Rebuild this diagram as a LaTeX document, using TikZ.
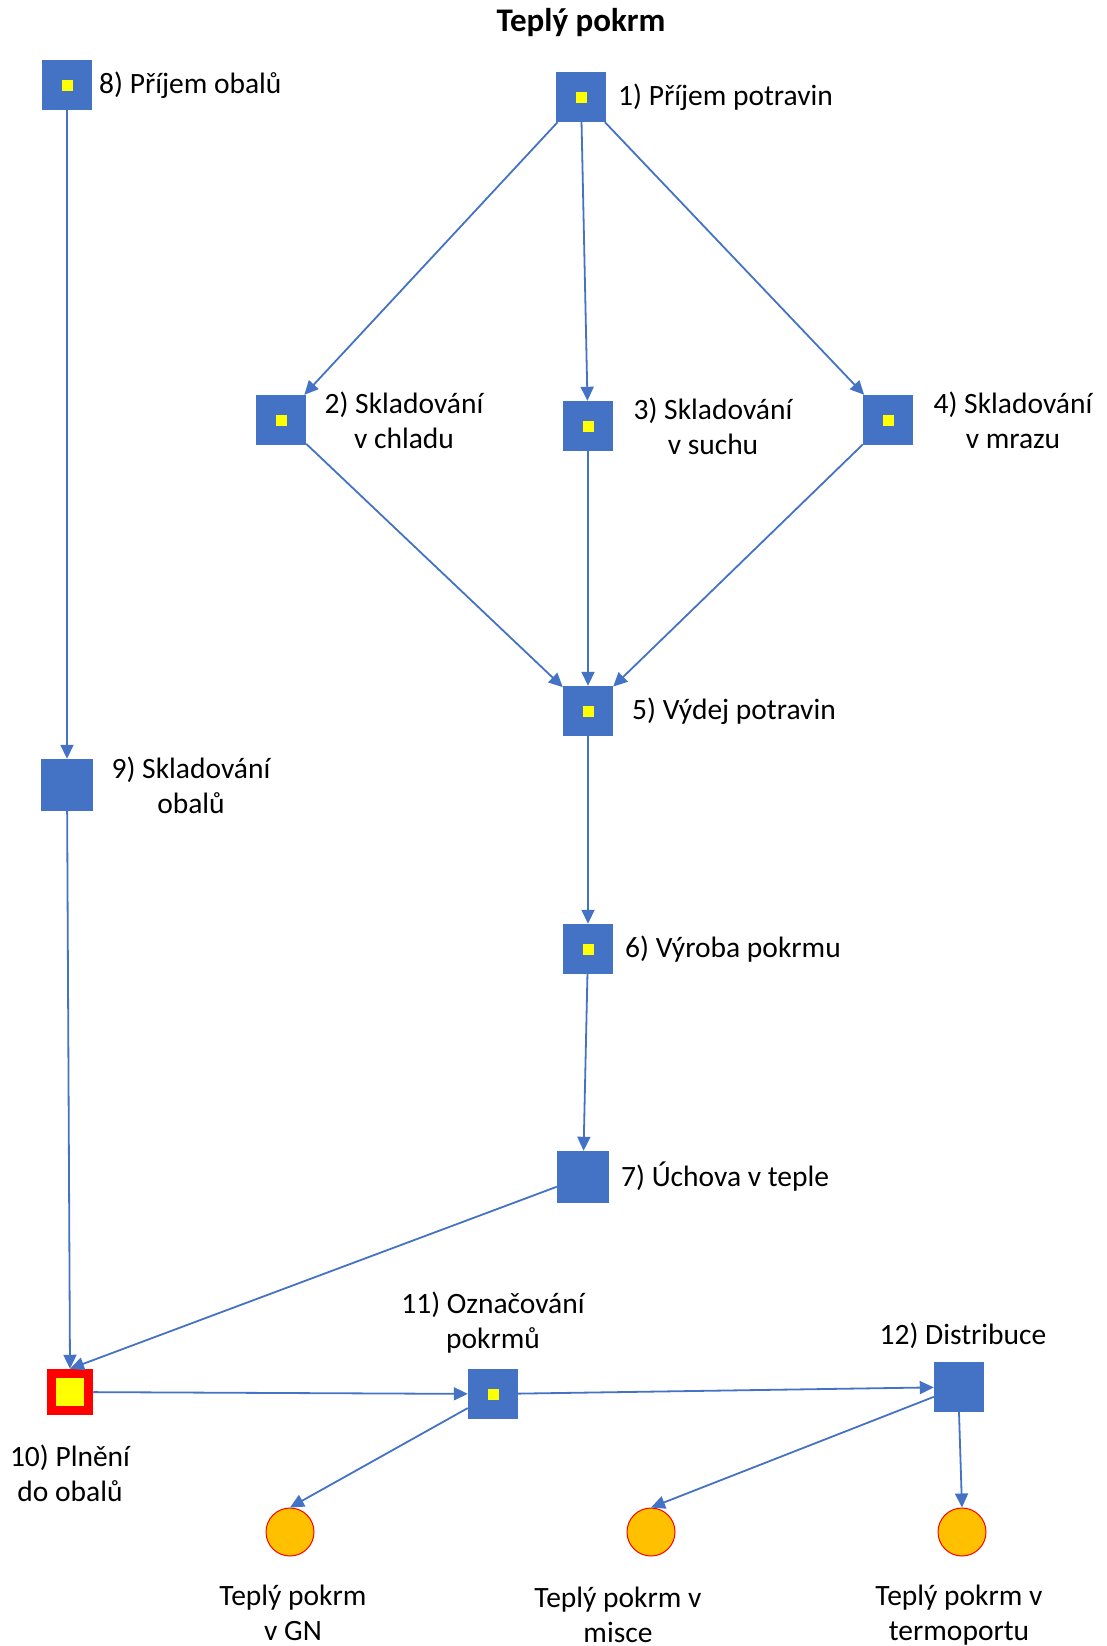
\documentclass[tikz,border=0pt]{standalone}
\usepackage{fontspec}
\setmainfont{Carlito}
\usetikzlibrary{arrows.meta}
\definecolor{modra}{HTML}{4472C4}
\definecolor{zluta}{HTML}{FFFF00}
\definecolor{cervena}{HTML}{FF0000}
\definecolor{oranz}{HTML}{FFC000}

\begin{document}
\begin{tikzpicture}[x=1pt, y=-1pt,
      krok/.style={fill=modra, inner sep=0pt, minimum size=50pt},
      bod/.style={krok, path picture={\fill[zluta]
          ([shift={(-5.5pt,-5.5pt)}]path picture bounding box.center) rectangle
          ([shift={(5.5pt,5.5pt)}]path picture bounding box.center);}},
      plneni/.style={draw=cervena, line width=9.5pt, fill=zluta, inner sep=0pt,
        minimum size=37pt},
      vystup/.style={circle, draw=cervena, line width=1pt, fill=oranz,
        inner sep=0pt, minimum size=48pt},
      popis/.style={font=\fontsize{29.5}{35}\selectfont, align=center, inner sep=0pt},
      sipka/.style={-{Triangle[width=13pt,length=14pt]}, modra, line width=1.8pt}]
    \useasboundingbox (0,0) rectangle (1106,1646);
    \node[font=\bfseries\fontsize{33}{39}\selectfont] (titul) at (581,23) {Teplý pokrm};
    % suroviny
    \node[bod] (n1) at (581,97) {};
    \node[popis, anchor=west] (p1) at (618,97) {1) Příjem potravin};
    \node[bod] (n2) at (281,420) {};
    \node[popis] (p2) at (404,420) {2) Skladování\\v chladu};
    \node[bod] (n3) at (588,426) {};
    \node[popis] (p3) at (713,426) {3) Skladování\\v suchu};
    \node[bod] (n4) at (888,420) {};
    \node[popis] (p4) at (1013,420) {4) Skladování\\v mrazu};
    \node[bod] (n5) at (588,711) {};
    \node[popis, anchor=west] (p5) at (632,711) {5) Výdej potravin};
    \node[bod] (n6) at (588,949) {};
    \node[popis, anchor=west] (p6) at (625,949) {6) Výroba pokrmu};
    \node[krok, minimum size=52pt] (n7) at (583,1177) {};
    \node[popis, anchor=west] (p7) at (621,1177) {7) Úchova v teple};
    % obaly
    \node[bod] (n8) at (67,85) {};
    \node[popis, anchor=west] (p8) at (99,85) {8) Příjem obalů};
    \node[krok, minimum size=52pt] (n9) at (67,785) {};
    \node[popis] (p9) at (191,785) {9) Skladování\\obalů};
    \node[plneni] (n10) at (70,1392) {};
    \node[popis] (p10) at (70,1473) {10) Plnění\\do obalů};
    \node[bod] (n11) at (493,1394) {};
    \node[popis] (p11) at (493,1323) {11) Označování\\pokrmů};
    \node[krok] (n12) at (959,1387) {};
    \node[popis] (p12) at (963,1336) {12) Distribuce};
    % vystupy
    \node[vystup] (c1) at (290,1532) {};
    \node[popis] (t1) at (293,1613) {Teplý pokrm\\v GN};
    \node[vystup] (c2) at (651,1532) {};
    \node[popis] (t2) at (618,1615) {Teplý pokrm v\\misce};
    \node[vystup] (c3) at (962,1532) {};
    \node[popis] (t3) at (959,1615) {Teplý pokrm v\\termoportu};
    % toky
    \draw[sipka] (n1) -- (n2);
    \draw[sipka] (n1) -- (n3);
    \draw[sipka] (n1) -- (n4);
    \draw[sipka] (n2) -- (n5);
    \draw[sipka] (n3) -- (n5);
    \draw[sipka] (n4) -- (n5);
    \draw[sipka] (n5) -- (n6);
    \draw[sipka] (n6) -- (n7);
    \draw[sipka] (n8) -- (n9);
    \draw[sipka] (n9) -- (n10.north);
    \draw[sipka] (n7) -- (n10.north);
    \draw[sipka] (n10) -- (n11);
    \draw[sipka] (n11) -- (n12);
    \draw[sipka] (n11) -- (c1.north);
    \draw[sipka] (n12) -- (c2.north);
    \draw[sipka] (n12.south) -- (c3.north);
  \end{tikzpicture}
\end{document}
